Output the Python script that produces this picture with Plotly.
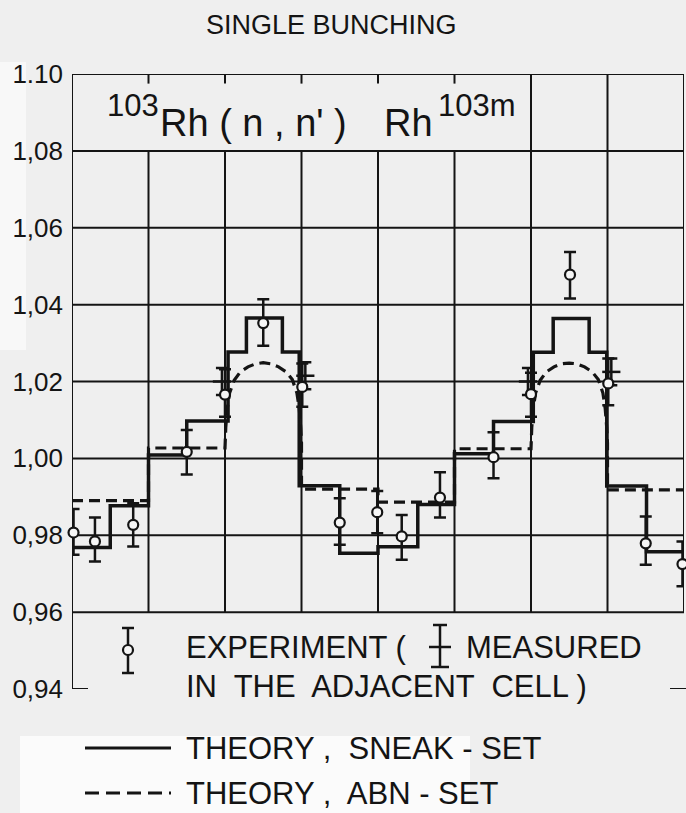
import plotly.graph_objects as go

# ---------------- data ----------------
# x axis: position in cell widths (0..8), y: relative reaction rate
sneak_x = [0, 0.5, 1.0, 1.5, 2.04, 2.28, 2.75, 2.97, 3.5, 4.0, 4.52, 5.0, 5.51,
           6.03, 6.29, 6.76, 6.99, 7.51, 8.0]
sneak_y = [0.9768, 0.9877, 1.0009, 1.0097, 1.0277, 1.0365, 1.0277, 0.9929, 0.9753,
           0.9770, 0.9880, 1.0012, 1.0096, 1.0276, 1.0364, 1.0276, 0.9928, 0.9757, 0.9757]

abn_x = [0, 1, 1, 2, 2.0, 2.01, 2.03, 2.06, 2.12, 2.2, 2.3, 2.4, 2.5, 2.6, 2.7, 2.8,
         2.88, 2.94, 2.97, 2.99, 3.0, 3.0, 4, 4, 5, 5,
         6.0, 6.01, 6.03, 6.06, 6.12, 6.2, 6.3, 6.4, 6.5, 6.6, 6.7, 6.8,
         6.88, 6.94, 6.97, 6.99, 7.0, 7.0, 8]
abn_y = [0.9890, 0.9890, 1.0027, 1.0027, 1.0027, 1.0080, 1.0130, 1.0170, 1.0203, 1.0225,
         1.0238, 1.0246, 1.0249, 1.0246, 1.0238, 1.0225, 1.0205, 1.0170, 1.0130, 1.0080,
         1.0040, 0.9920, 0.9920, 0.9886, 0.9886, 1.0025,
         1.0025, 1.0080, 1.0130, 1.0170, 1.0203, 1.0225, 1.0238, 1.0246, 1.0248, 1.0246,
         1.0238, 1.0225, 1.0205, 1.0170, 1.0130, 1.0080, 1.0040, 0.9918, 0.9918]

exp_x = [0.02, 0.30, 0.80, 1.50, 2.00, 2.50, 3.01, 3.50, 3.99, 4.31, 4.81, 5.51,
         6.00, 6.51, 7.01, 7.50, 7.98]
exp_y = [0.9807, 0.9784, 0.9827, 1.0017, 1.0166, 1.0352, 1.0186, 0.9833, 0.9860,
         0.9797, 0.9898, 1.0003, 1.0167, 1.0478, 1.0195, 0.9779, 0.9725]
exp_err_plus = [0.0061, 0.0062, 0.0056, 0.0057, 0.0066, 0.0062, 0.0061, 0.0063, 0.0055,
                0.0056, 0.0066, 0.0065, 0.0056, 0.0059, 0.0065, 0.0070, 0.0059]
exp_err_minus = [0.0058, 0.0052, 0.0056, 0.0059, 0.0058, 0.0059, 0.0052, 0.0058, 0.0055,
                 0.0061, 0.0052, 0.0055, 0.0059, 0.0062, 0.0057, 0.0056, 0.0058]

# points measured in the adjacent cell (bar with a middle cross tick)
adj_x = [1.96, 3.05, 5.96, 7.05]
adj_y = [1.0200, 1.0215, 1.0200, 1.0225]
adj_err = [0.0035, 0.0035, 0.0035, 0.0035]

y_ticks = [0.94, 0.96, 0.98, 1.00, 1.02, 1.04, 1.06, 1.08, 1.10]
y_ticktext = ["0,94", "0,96", "0,98", "1,00", "1,02", "1,04", "1,06", "1,08", "1.10"]
cell_edges = [0, 1, 2, 3, 4, 5, 6, 7, 8]

# ---------------- layout geometry ----------------
W, H = 686, 813
L, R, T, B = 72, 2, 74, 124
PW, PH = W - L - R, H - T - B


def px2x(px):
    return (px - L) / PW


def py2y(py):
    return (H - B - py) / PH


INK = "#141414"
BG = "#efefef"
SANS = "Liberation Sans, Arial, sans-serif"

fig = go.Figure()

fig.add_trace(go.Scatter(x=abn_x, y=abn_y, mode="lines",
                         line=dict(color=INK, width=3.2, dash="11px,6px"),
                         showlegend=False, hoverinfo="skip"))
fig.add_trace(go.Scatter(x=sneak_x, y=sneak_y, mode="lines", line_shape="hv",
                         line=dict(color=INK, width=3.5),
                         showlegend=False, hoverinfo="skip"))
fig.add_trace(go.Scatter(x=adj_x, y=adj_y, mode="markers",
                         marker=dict(symbol="line-ew", size=13, line=dict(color=INK, width=2.5)),
                         error_y=dict(type="data", array=adj_err, color=INK, thickness=2.5, width=6),
                         showlegend=False, cliponaxis=False))
fig.add_trace(go.Scatter(x=exp_x, y=exp_y, mode="markers",
                         marker=dict(symbol="circle", size=10, color="#f6f6f6",
                                     line=dict(color=INK, width=2.2)),
                         error_y=dict(type="data", symmetric=False, array=exp_err_plus,
                                      arrayminus=exp_err_minus, color=INK, thickness=2.5, width=6),
                         showlegend=False, cliponaxis=False))

shapes = []
GL = dict(color=INK, width=2)
# horizontal grid lines 0.96 .. 1.10
for yv in y_ticks[1:]:
    shapes.append(dict(type="line", xref="x", yref="y", x0=0, x1=8, y0=yv, y1=yv,
                       line=GL, layer="below"))
# vertical lines
for xv in cell_edges:
    if xv == 0:
        y0, y1 = 0.94, 1.10
    elif xv in (6, 7, 8):
        y0, y1 = 0.96, 1.10
    else:
        y0, y1 = 0.96, 1.08
    shapes.append(dict(type="line", xref="x", yref="y", x0=xv, x1=xv, y0=y0, y1=y1,
                       line=GL, layer="below"))
    if xv in (1, 2, 3, 4, 5):
        shapes.append(dict(type="line", xref="x", yref="y", x0=xv, x1=xv, y0=1.10, y1=1.0975,
                           line=GL, layer="below"))
# bottom ticks at 0.94
shapes.append(dict(type="line", xref="paper", yref="y", x0=0, x1=px2x(88), y0=0.94, y1=0.94,
                   line=GL))
shapes.append(dict(type="line", xref="paper", yref="y", x0=px2x(670), x1=px2x(686),
                   y0=0.94, y1=0.94, line=GL))

# lighter scan patches
shapes.append(dict(type="rect", xref="paper", yref="paper", x0=px2x(20), x1=px2x(470),
                   y0=py2y(813), y1=py2y(736), fillcolor="#fbfbfb", line=dict(width=0),
                   layer="below"))
shapes.append(dict(type="rect", xref="paper", yref="paper", x0=px2x(0), x1=px2x(26),
                   y0=py2y(350), y1=py2y(62), fillcolor="#f8f8f8", line=dict(width=0),
                   layer="below"))

# legend: experiment symbol
cx, cy = 128, 650
shapes += [
    dict(type="line", xref="paper", yref="paper", x0=px2x(cx), x1=px2x(cx),
         y0=py2y(628), y1=py2y(673), line=dict(color=INK, width=2.5)),
    dict(type="line", xref="paper", yref="paper", x0=px2x(cx - 6), x1=px2x(cx + 6),
         y0=py2y(628), y1=py2y(628), line=dict(color=INK, width=2.5)),
    dict(type="line", xref="paper", yref="paper", x0=px2x(cx - 6), x1=px2x(cx + 6),
         y0=py2y(673), y1=py2y(673), line=dict(color=INK, width=2.5)),
    dict(type="circle", xref="paper", yref="paper", x0=px2x(cx - 5), x1=px2x(cx + 5),
         y0=py2y(cy + 5), y1=py2y(cy - 5), fillcolor="#f6f6f6", line=dict(color=INK, width=2.2)),
]
# legend: adjacent-cell symbol
ax_ = 440
shapes += [
    dict(type="line", xref="paper", yref="paper", x0=px2x(ax_), x1=px2x(ax_),
         y0=py2y(625), y1=py2y(667), line=dict(color=INK, width=2.5)),
    dict(type="line", xref="paper", yref="paper", x0=px2x(ax_ - 7), x1=px2x(ax_ + 7),
         y0=py2y(625), y1=py2y(625), line=dict(color=INK, width=2.5)),
    dict(type="line", xref="paper", yref="paper", x0=px2x(ax_ - 11), x1=px2x(ax_ + 11),
         y0=py2y(647), y1=py2y(647), line=dict(color=INK, width=2.5)),
    dict(type="line", xref="paper", yref="paper", x0=px2x(ax_ - 9), x1=px2x(ax_ + 9),
         y0=py2y(667), y1=py2y(667), line=dict(color=INK, width=2.5)),
]
# legend: theory lines
shapes += [
    dict(type="line", xref="paper", yref="paper", x0=px2x(85), x1=px2x(171),
         y0=py2y(748), y1=py2y(748), line=dict(color=INK, width=3)),
    dict(type="line", xref="paper", yref="paper", x0=px2x(85), x1=px2x(171),
         y0=py2y(793), y1=py2y(793), line=dict(color=INK, width=3, dash="14px,7px")),
]

ann = []


def txt(text, px, py, size, xanchor="left"):
    ann.append(dict(text=text, x=px2x(px), y=py2y(py), xref="paper", yref="paper",
                    xanchor=xanchor, yanchor="middle", showarrow=False,
                    font=dict(family=SANS, size=size, color=INK)))


txt("SINGLE BUNCHING", 331, 25, 27, "center")
txt("<span style='font-size:31px'>103</span>", 105, 106, 31)
txt("Rh ( n , n' )", 158, 123, 38)
txt("Rh", 382, 123, 38)
txt("<span style='font-size:31px'>103m</span>", 436, 106, 31)
txt("EXPERIMENT (", 184, 647, 31)
txt("MEASURED", 464, 647, 31)
txt("IN  THE  ADJACENT  CELL )", 184, 686, 31)
txt("THEORY ,  SNEAK - SET", 184, 748, 31)
txt("THEORY ,  ABN - SET", 184, 793, 31)

fig.update_layout(
    width=W, height=H,
    margin=dict(l=L, r=R, t=T, b=B, pad=0),
    paper_bgcolor=BG, plot_bgcolor=BG,
    shapes=shapes, annotations=ann,
    showlegend=False,
    xaxis=dict(range=[0, 8], showgrid=False, zeroline=False, showticklabels=False,
               showline=False, ticks="", fixedrange=True),
    yaxis=dict(range=[0.94, 1.10], showgrid=False, zeroline=False, showline=False,
               tickmode="array", tickvals=y_ticks, ticktext=y_ticktext, ticks="",
               ticklabelstandoff=8,
               tickfont=dict(family=SANS, size=26, color=INK), fixedrange=True),
)

fig.write_html("out.html", post_script="document.body.style.margin='0';",
               config={"displayModeBar": False})
